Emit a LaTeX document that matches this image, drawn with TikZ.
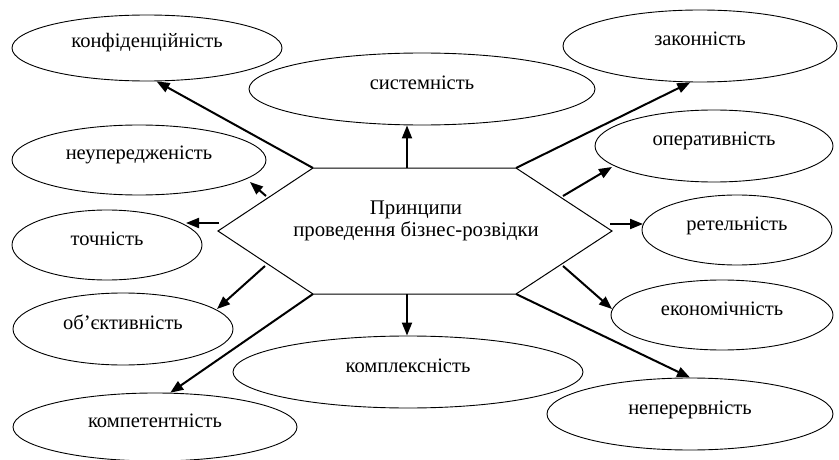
\documentclass[tikz,border=0pt]{standalone}
\usepackage{fontspec}
\setmainfont{Liberation Serif}
\usetikzlibrary{shapes.geometric,arrows.meta}
\tikzset{
  oval/.style={draw, ellipse, line width=0.9pt, inner sep=0pt, text height=0.6em, text depth=0.6em, font=\fontsize{20.5}{24}\selectfont},
  arr/.style={line width=2pt, -{Triangle[length=13pt,width=10pt]}, shorten >=0pt},
  hexline/.style={draw, line width=1pt, line join=miter}
}
\begin{document}
\begin{tikzpicture}[x=1pt,y=-1pt]
\useasboundingbox (0,0) rectangle (839,460);
% ellipses
\node[oval, minimum width=270pt, minimum height=66pt] (konf) at (147,48) {конфіденційність};
\node[oval, minimum width=346pt, minimum height=72pt] (sys) at (422,89) {системність};
\node[oval, minimum width=274pt, minimum height=72pt] (zak) at (700,46) {законність};
\node[oval, minimum width=254pt, minimum height=70pt] (neup) at (139,160) {неупередженість};
\node[oval, minimum width=238pt, minimum height=72pt] (oper) at (714,146) {оперативність};
\node[oval, minimum width=190pt, minimum height=70pt] (toch) at (107,245) {точність};
\node[oval, minimum width=190pt, minimum height=70pt] (ret) at (737,230) {ретельність};
\node[oval, minimum width=220pt, minimum height=72pt] (obj) at (123,329) {об’єктивність};
\node[oval, minimum width=222pt, minimum height=70pt] (ekon) at (722,315) {економічність};
\node[oval, minimum width=350pt, minimum height=72pt] (kompl) at (408,372) {комплексність};
\node[oval, minimum width=284pt, minimum height=68pt] (kompet) at (155,427) {компетентність};
\node[oval, minimum width=286pt, minimum height=72pt] (neper) at (690,414) {неперервність};
% hexagon
\coordinate (hTL) at (313,168);
\coordinate (hTR) at (516,168);
\coordinate (hR) at (612,231);
\coordinate (hBR) at (516,294);
\coordinate (hBL) at (313,294);
\coordinate (hL) at (218,231);
\draw[hexline] (hTL) -- (hTR) -- (hR) -- (hBR) -- (hBL) -- (hL) -- cycle;
\node[align=center, font=\fontsize{20.8}{22}\selectfont, inner sep=0pt] (center) at (416,221) {Принципи\\проведення бізнес-розвідки};
% arrow start/end coordinates
\coordinate (sSys) at (407,168);
\coordinate (sKompl) at (407,294);
\coordinate (sNeup) at (266,196);
\coordinate (eNeup) at (250,182);
\coordinate (sToch) at (219,223);
\coordinate (eToch) at (186,223);
\coordinate (sObj) at (265,266);
\coordinate (eObj) at (217,309);
\coordinate (sOper) at (563,196);
\coordinate (eOper) at (612,167);
\coordinate (sRet) at (610,224);
\coordinate (eRet) at (643,224);
\coordinate (sEkon) at (563,266);
\coordinate (eEkon) at (612,309);
% arrows
\draw[arr] (hTL) -- (konf.-74);
\draw[arr] (sSys) -- (sSys |- sys.south);
\draw[arr] (hTR) -- (zak.-105.5);
\draw[arr] (sNeup) -- (eNeup);
\draw[arr] (sToch) -- (eToch);
\draw[arr] (sObj) -- (eObj);
\draw[arr] (hBL) -- (kompet.66);
\draw[arr] (sKompl) -- (sKompl |- kompl.north);
\draw[arr] (hBR) -- (neper.north);
\draw[arr] (sOper) -- (eOper);
\draw[arr] (sRet) -- (eRet);
\draw[arr] (sEkon) -- (eEkon);
\end{tikzpicture}
\end{document}
